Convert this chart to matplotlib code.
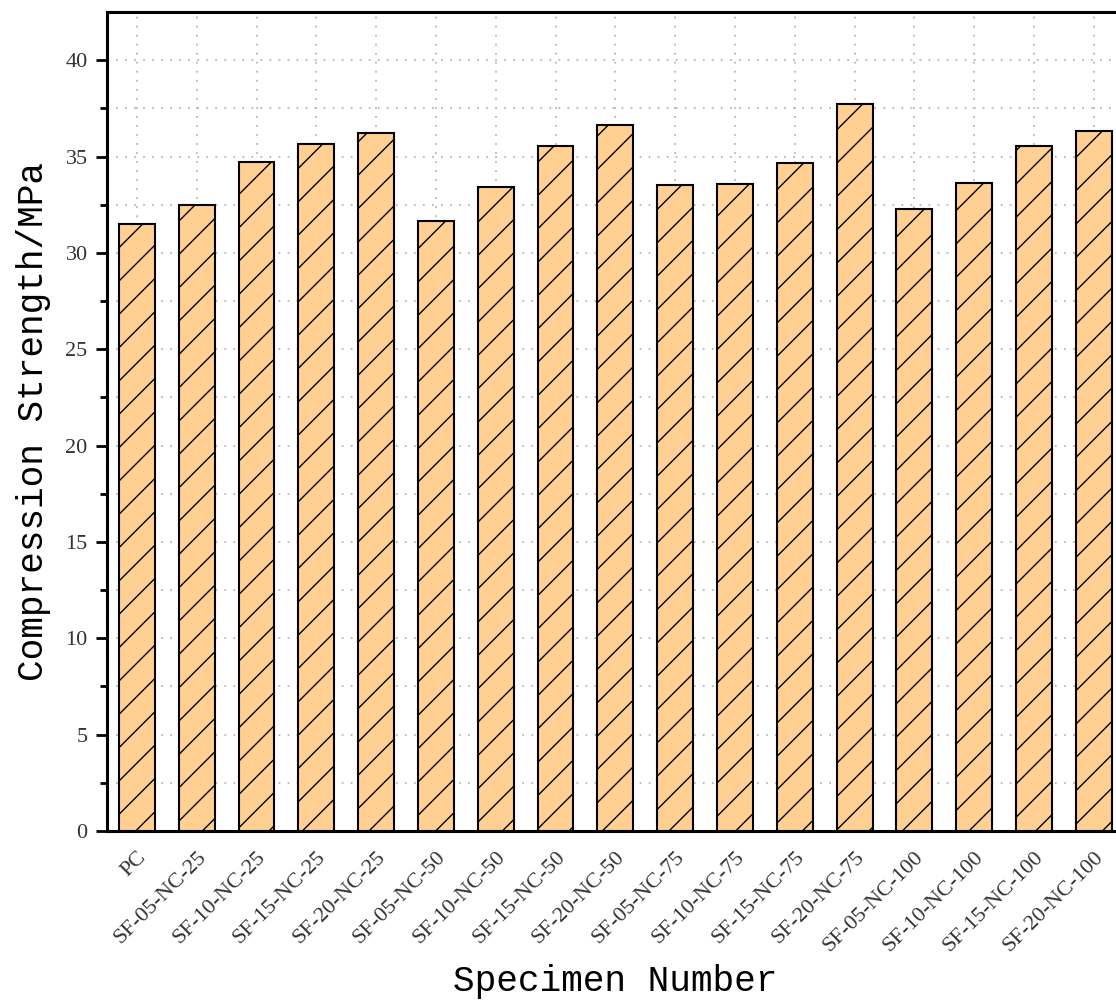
import matplotlib
matplotlib.use("Agg")
import matplotlib.pyplot as plt
import numpy as np

# specimen names and compression strength (MPa)
specimens = ["PC",
             "SF-05-NC-25", "SF-10-NC-25", "SF-15-NC-25", "SF-20-NC-25",
             "SF-05-NC-50", "SF-10-NC-50", "SF-15-NC-50", "SF-20-NC-50",
             "SF-05-NC-75", "SF-10-NC-75", "SF-15-NC-75", "SF-20-NC-75",
             "SF-05-NC-100", "SF-10-NC-100", "SF-15-NC-100", "SF-20-NC-100"]
strength = [31.5, 32.5, 34.7, 35.65, 36.2,
            31.65, 33.4, 35.55, 36.65,
            33.55, 33.6, 34.65, 37.75,
            32.3, 33.65, 35.55, 36.35]
yticks = [0, 5, 10, 15, 20, 25, 30, 35, 40]

plt.rcParams['hatch.linewidth'] = 1.0
plt.rcParams['hatch.color'] = '#222222'

fig = plt.figure(figsize=(11.16, 10.07), dpi=100)
ax = fig.add_axes([0.0959, 0.1748, 0.911, 0.8132])

x = np.arange(len(specimens))
ax.bar(x, strength, width=0.6, color='#FFD092', edgecolor='black',
       linewidth=1.5, hatch='/', zorder=3)

ax.set_xlim(-0.5, len(specimens) - 0.5)
ax.set_ylim(0, 42.5)
ax.set_yticks(yticks)
ax.set_yticks(np.arange(2.5, 42.5, 5), minor=True)
ax.set_xticks(x)
ax.set_xticklabels(specimens, rotation=45, ha='right', va='top',
                   rotation_mode='anchor', family='Liberation Serif',
                   fontsize=16, color='#333333')
for lab in ax.get_yticklabels():
    lab.set_family('Liberation Serif')
    lab.set_fontsize(16)
    lab.set_color('#333333')

ax.tick_params(axis='y', which='major', direction='out', length=8, width=2, pad=6)
ax.tick_params(axis='y', which='minor', direction='out', length=5, width=2)
ax.tick_params(axis='x', which='both', length=0, pad=12)

# dotted grid at every 2.5 MPa and at each bar centre
ax.grid(True, which='both', axis='y', color='#b8b8b8', linestyle=(0, (1, 4)),
        linewidth=1.3, zorder=0)
ax.grid(True, which='major', axis='x', color='#b8b8b8', linestyle=(0, (1, 4)),
        linewidth=1.3, zorder=0)
ax.set_axisbelow(True)

for side in ['left', 'top', 'bottom', 'right']:
    ax.spines[side].set_linewidth(2.2)

ax.set_ylabel("Compression Strength/MPa", family='Liberation Mono', fontsize=26,
              labelpad=10)
ax.set_xlabel("Specimen Number", family='Liberation Mono', fontsize=26,
              labelpad=6)

plt.savefig("out.png", dpi=100)
